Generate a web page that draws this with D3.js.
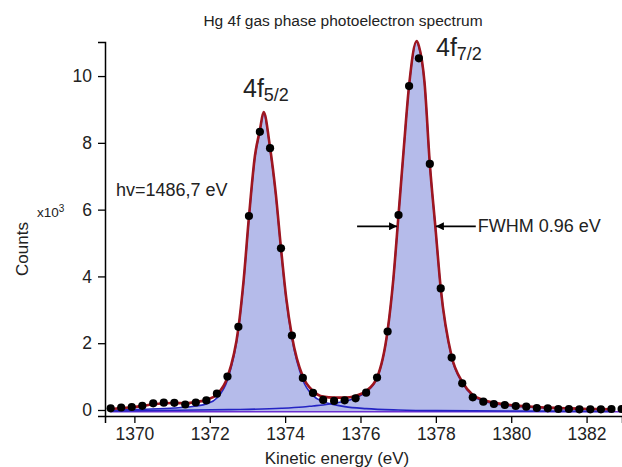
<!DOCTYPE html>
<html>
<head>
<meta charset="utf-8">
<script src="https://cdn.jsdelivr.net/npm/d3@7"></script>
<style>
  body { margin: 0; background: #fff; }
  text { font-family: "Liberation Sans", Arial, sans-serif; fill: #222; }
</style>
</head>
<body>
<svg id="chart" width="622" height="467"></svg>
<script>
// Hg 4f spectrum, counts in units of 10^3
var energy = [1369.37, 1369.65, 1369.93, 1370.21, 1370.50, 1370.78, 1371.06, 1371.35, 1371.63, 1371.91,
  1372.19, 1372.47, 1372.76, 1373.04, 1373.33, 1373.60, 1373.89, 1374.18, 1374.47, 1374.74,
  1375.01, 1375.30, 1375.58, 1375.87, 1376.15, 1376.44, 1376.72, 1377.01, 1377.29, 1377.55,
  1377.84, 1378.13, 1378.42, 1378.70, 1378.98, 1379.26, 1379.54, 1379.83, 1380.12, 1380.40,
  1380.68, 1380.97, 1381.25, 1381.53, 1381.81, 1382.10, 1382.38, 1382.66, 1382.93];
var counts = [0.05, 0.075, 0.09, 0.125, 0.20, 0.22, 0.215, 0.165, 0.225, 0.285,
  0.49, 1.00, 2.49, 5.81, 8.33, 7.84, 4.84, 2.23, 0.96, 0.51,
  0.30, 0.27, 0.29, 0.35, 0.52, 0.97, 2.35, 5.84, 9.70, 10.53,
  7.37, 3.64, 1.57, 0.80, 0.38, 0.25, 0.18, 0.15, 0.12, 0.10,
  0.06, 0.05, 0.03, 0.03, 0.02, 0.02, 0.02, 0.03, 0.03];

// total fit (red)
var fitEnergy = [1369.37, 1369.65, 1369.93, 1370.21, 1370.50, 1370.78, 1371.06, 1371.35, 1371.63, 1371.91,
  1372.19, 1372.47, 1372.76, 1372.90, 1373.04, 1373.20, 1373.33, 1373.43, 1373.60, 1373.75,
  1373.89, 1374.03, 1374.18, 1374.47, 1374.74, 1375.01, 1375.30, 1375.58, 1375.87, 1376.15,
  1376.44, 1376.72, 1376.87, 1377.01, 1377.15, 1377.29, 1377.49, 1377.55, 1377.70, 1377.84,
  1377.99, 1378.13, 1378.42, 1378.70, 1378.98, 1379.26, 1379.54, 1379.83, 1380.12, 1380.40,
  1380.68, 1380.97, 1381.25, 1381.53, 1381.81, 1382.10, 1382.38, 1382.63];
var fitTotal = [0.03, 0.06, 0.08, 0.12, 0.17, 0.20, 0.21, 0.20, 0.24, 0.30,
  0.47, 0.98, 2.45, 3.90, 5.78, 7.62, 8.38, 8.92, 7.86, 6.50,
  4.85, 3.35, 2.22, 1.00, 0.57, 0.40, 0.37, 0.37, 0.42, 0.57,
  0.97, 2.38, 3.90, 5.85, 7.85, 9.72, 11.05, 10.90, 9.80, 7.37,
  5.45, 3.64, 1.60, 0.85, 0.45, 0.30, 0.22, 0.17, 0.13, 0.11,
  0.09, 0.07, 0.06, 0.05, 0.04, 0.03, 0.03, 0.02];

// 4f5/2 component
var compAEnergy = [1369.37, 1370.21, 1371.06, 1371.63, 1371.91, 1372.19, 1372.47, 1372.76, 1372.90, 1373.04,
  1373.20, 1373.33, 1373.43, 1373.60, 1373.75, 1373.89, 1374.03, 1374.18, 1374.47, 1374.74,
  1375.01, 1375.30, 1375.58, 1376.15, 1377.00, 1378.00, 1382.63];
var compA = [-0.01, 0.02, 0.06, 0.12, 0.18, 0.36, 0.90, 2.40, 3.85, 5.74,
  7.58, 8.35, 8.88, 7.82, 6.46, 4.80, 3.30, 2.15, 0.90, 0.43,
  0.25, 0.16, 0.10, 0.04, 0.00, -0.02, -0.04];

// 4f7/2 component
var compBEnergy = [1369.37, 1371.00, 1372.50, 1373.90, 1374.47, 1374.74, 1375.01, 1375.30, 1375.58, 1375.87,
  1376.15, 1376.44, 1376.72, 1376.87, 1377.01, 1377.15, 1377.29, 1377.49, 1377.55, 1377.70,
  1377.84, 1377.99, 1378.13, 1378.42, 1378.70, 1378.98, 1379.26, 1379.54, 1379.83, 1380.40,
  1380.97, 1381.53, 1382.10, 1382.63];
var compB = [-0.03, -0.01, 0.01, 0.05, 0.09, 0.12, 0.15, 0.20, 0.26, 0.36,
  0.54, 0.95, 2.36, 3.88, 5.84, 7.83, 9.70, 11.03, 10.88, 9.78,
  7.35, 5.43, 3.62, 1.57, 0.82, 0.42, 0.27, 0.19, 0.14, 0.09,
  0.06, 0.04, 0.02, 0.01];

var baseline = -0.05;
var baselineRange = [1369.37, 1382.93];

var xTicks = [1370, 1372, 1374, 1376, 1378, 1380, 1382];
var yTicks = [0, 2, 4, 6, 8, 10];

// FWHM arrows drawn at half maximum
var fwhmY = 5.5;
var fwhmArrows = [[1375.91, 1376.97], [1379.06, 1378.00]];

var svg = d3.select("#chart");

var x = d3.scaleLinear().domain([1369.22, 1382.94]).range([105, 622]);
var y = d3.scaleLinear().domain([-0.18, 11.02]).range([416, 42]);

function zipPoints(xs, ys) {
  return xs.map(function (e, i) { return [e, ys[i]]; });
}

var line = d3.line()
  .x(function (d) { return x(d[0]); })
  .y(function (d) { return y(d[1]); })
  .curve(d3.curveMonotoneX);

var area = d3.area()
  .x(function (d) { return x(d[0]); })
  .y0(y(baseline))
  .y1(function (d) { return y(d[1]); })
  .curve(d3.curveMonotoneX);

var fillColor = "#b5bbea";

// component fills
[zipPoints(compAEnergy, compA), zipPoints(compBEnergy, compB)].forEach(function (pts) {
  svg.append("path")
    .attr("d", area(pts))
    .attr("fill", fillColor);
});

// background line
svg.append("path")
  .attr("d", line([[baselineRange[0], baseline], [baselineRange[1], baseline]]))
  .attr("fill", "none")
  .attr("stroke", "#6a2ed0")
  .attr("stroke-width", 1.5);

// component lines
[zipPoints(compAEnergy, compA), zipPoints(compBEnergy, compB)].forEach(function (pts) {
  svg.append("path")
    .attr("d", line(pts))
    .attr("fill", "none")
    .attr("stroke", "#2424c4")
    .attr("stroke-width", 1.6);
});

// total fit
svg.append("path")
  .attr("d", line(zipPoints(fitEnergy, fitTotal)))
  .attr("fill", "none")
  .attr("stroke", "#9e1620")
  .attr("stroke-width", 2.6);

// measured points
svg.append("g").selectAll("circle")
  .data(zipPoints(energy, counts))
  .enter().append("circle")
  .attr("cx", function (d) { return x(d[0]); })
  .attr("cy", function (d) { return y(d[1]); })
  .attr("r", 4.1)
  .attr("fill", "#000");

// axes
var xAxis = svg.append("g")
  .attr("transform", "translate(0," + y.range()[0] + ")")
  .call(d3.axisBottom(x).tickValues(xTicks).tickSize(7).tickPadding(5).tickFormat(d3.format("d")));
var yAxis = svg.append("g")
  .attr("transform", "translate(" + x.range()[0] + ",0)")
  .call(d3.axisLeft(y).tickValues(yTicks).tickSize(7).tickPadding(6));

[xAxis, yAxis].forEach(function (g) {
  g.select(".domain").attr("stroke", "#000").attr("stroke-width", 1.5);
  g.selectAll(".tick line").attr("stroke", "#000").attr("stroke-width", 1.3);
  g.selectAll(".tick text")
    .attr("font-family", "Liberation Sans, Arial, sans-serif")
    .attr("font-size", 17.5)
    .attr("fill", "#222");
});

// titles
svg.append("text")
  .attr("x", 343).attr("y", 26)
  .attr("text-anchor", "middle")
  .attr("font-size", 15.5)
  .text("Hg 4f gas phase photoelectron spectrum");

svg.append("text")
  .attr("x", 337).attr("y", 464)
  .attr("text-anchor", "middle")
  .attr("font-size", 17)
  .text("Kinetic energy (eV)");

svg.append("text")
  .attr("transform", "translate(28,249) rotate(-90)")
  .attr("text-anchor", "middle")
  .attr("font-size", 17)
  .text("Counts");

var mult = svg.append("text")
  .attr("x", 37).attr("y", 217)
  .attr("font-size", 13.5)
  .text("x10");
mult.append("tspan").attr("dy", -5).attr("font-size", 10).text("3");

svg.append("text")
  .attr("x", 116).attr("y", 196)
  .attr("font-size", 18)
  .text("hv=1486,7 eV");

// peak labels
function peakLabel(px, py, sub) {
  var t = svg.append("text")
    .attr("x", px).attr("y", py)
    .attr("font-size", 25)
    .text("4f");
  t.append("tspan").attr("dy", 4).attr("font-size", 18).text(sub);
}
peakLabel(243, 97, "5/2");
peakLabel(436, 56, "7/2");

// FWHM arrows
svg.append("defs").append("marker")
  .attr("id", "head")
  .attr("viewBox", "0 0 10 10")
  .attr("refX", 10).attr("refY", 5)
  .attr("markerWidth", 10).attr("markerHeight", 8)
  .attr("markerUnits", "userSpaceOnUse")
  .attr("orient", "auto")
  .append("path")
  .attr("d", "M0,0L10,5L0,10Z")
  .attr("fill", "#000");

fwhmArrows.forEach(function (a) {
  svg.append("line")
    .attr("x1", x(a[0])).attr("y1", y(fwhmY))
    .attr("x2", x(a[1])).attr("y2", y(fwhmY))
    .attr("stroke", "#000")
    .attr("stroke-width", 1.6)
    .attr("marker-end", "url(#head)");
});

svg.append("text")
  .attr("x", x(fwhmArrows[1][0]) + 2).attr("y", y(fwhmY) + 6)
  .attr("font-size", 18)
  .text("FWHM 0.96 eV");
</script>
</body>
</html>
